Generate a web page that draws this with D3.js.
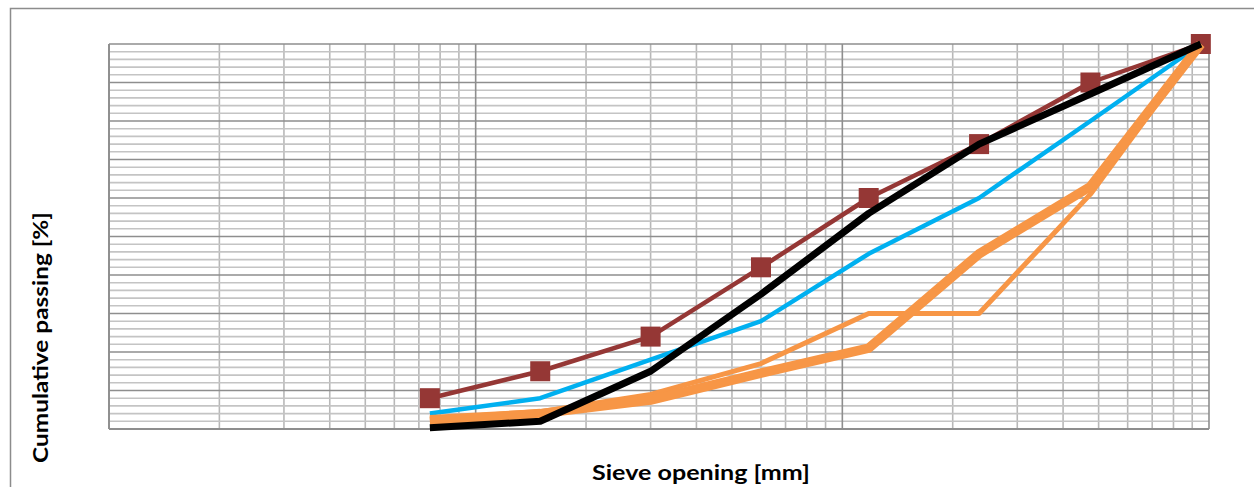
<!DOCTYPE html>
<html>
<head>
<meta charset="utf-8">
<script src="https://cdn.jsdelivr.net/npm/d3@7"></script>
<style>
  html, body { margin: 0; padding: 0; background: #fff; }
  svg { display: block; }
</style>
</head>
<body>
<svg id="chart" width="1254" height="487"></svg>
<script>
// ---- data ----
const sieveSizes = [0.075, 0.15, 0.3, 0.6, 1.18, 2.36, 4.75, 9.5];   // mm
const seriesBrown       = [8, 15, 24, 42, 60, 74, 90, 100];
const seriesBlue        = [4, 8, 18, 28, 45.5, 60, 80, 100];
const seriesOrangeThin  = [3, 4.5, 9, 17, 30, 30, 61, 100];
const seriesOrangeThick = [2, 4, 7.5, 14.5, 21, 45.5, 63, 100];
const seriesBlack       = [0.3, 2, 15, 35, 56, 74, 87, 100];
const xDomain = [0.01, 10];
const yDomain = [0, 100];
const xTitle = "Sieve opening [mm]";
const yTitle = "Cumulative passing [%]";

(function () {
// ---- layout ----
const svg = d3.select("#chart");
const pL = 109, pR = 1209, pT = 44, pB = 429;

const x = d3.scaleLog().domain(xDomain).range([pL, pR]);
const y = d3.scaleLinear().domain(yDomain).range([pB, pT]);

// outer chart frame (extends beyond the visible area, as in the reference)
svg.append("rect")
  .attr("x", 10.5).attr("y", 8.5)
  .attr("width", 1300).attr("height", 600)
  .attr("fill", "none").attr("stroke", "#8c8c8c").attr("stroke-width", 1.5);

const grid = svg.append("g");

// vertical log gridlines
const xTicks = x.ticks();
const isMajorX = v => Math.abs(Math.log10(v) - Math.round(Math.log10(v))) < 1e-9;
grid.selectAll("line.vx").data(xTicks.filter(v => !isMajorX(v))).join("line")
  .attr("x1", d => x(d)).attr("x2", d => x(d))
  .attr("y1", pT).attr("y2", pB)
  .attr("stroke", "#b8b8b8").attr("stroke-width", 1.6);

// horizontal gridlines every 2 %
const yMinor = d3.range(0, 101, 2).filter(v => v % 10 !== 0);
const yMajor = d3.range(0, 101, 10);
grid.selectAll("line.hy").data(yMinor).join("line")
  .attr("x1", pL).attr("x2", pR)
  .attr("y1", d => y(d)).attr("y2", d => y(d))
  .attr("stroke", "#c4c4c4").attr("stroke-width", 1.6);

grid.selectAll("line.hY").data(yMajor).join("line")
  .attr("x1", pL).attr("x2", pR)
  .attr("y1", d => y(d)).attr("y2", d => y(d))
  .attr("stroke", "#8e8e8e").attr("stroke-width", 1.6);

grid.selectAll("line.vX").data(xTicks.filter(isMajorX)).join("line")
  .attr("x1", d => x(d)).attr("x2", d => x(d))
  .attr("y1", pT).attr("y2", pB)
  .attr("stroke", "#8e8e8e").attr("stroke-width", 1.6);

// plot border (left and bottom axis lines)
svg.append("line").attr("x1", pL).attr("x2", pL).attr("y1", pT).attr("y2", pB)
  .attr("stroke", "#8e8e8e").attr("stroke-width", 1.8);
svg.append("line").attr("x1", pL).attr("x2", pR).attr("y1", pB).attr("y2", pB)
  .attr("stroke", "#8e8e8e").attr("stroke-width", 1.8);

// ---- series ----
const line = d3.line().x(d => x(d[0])).y(d => y(d[1]));
const zip = vals => sieveSizes.map((s, i) => [s, vals[i]]);

function drawLine(vals, color, width) {
  svg.append("path")
    .attr("d", line(zip(vals)))
    .attr("fill", "none")
    .attr("stroke", color)
    .attr("stroke-width", width)
    .attr("stroke-linejoin", "round");
}

drawLine(seriesBrown, "#953735", 4.5);
const sq = 20;
svg.selectAll("rect.mk").data(zip(seriesBrown)).join("rect")
  .attr("x", d => x(d[0]) - sq / 2).attr("y", d => y(d[1]) - sq / 2)
  .attr("width", sq).attr("height", sq)
  .attr("fill", "#953735");

drawLine(seriesBlue, "#00b0f0", 4.5);
drawLine(seriesOrangeThin, "#f79646", 5);
drawLine(seriesOrangeThick, "#f79646", 9.5);
drawLine(seriesBlack, "#000000", 7);

// ---- titles ----
const fontFamily = "Lato, 'Open Sans', sans-serif";
const fontSize = 21;
function addTitle(text, cx, cy, rot, targetWidth) {
  const g = svg.append("g").attr("transform", `translate(${cx},${cy}) rotate(${rot})`);
  const t = g.append("text")
    .attr("text-anchor", "middle")
    .attr("font-family", fontFamily).attr("font-weight", 700)
    .attr("font-size", fontSize).attr("fill", "#000")
    .text(text);
  const w = t.node().getComputedTextLength();
  t.attr("transform", `scale(${(targetWidth / w).toFixed(4)},1)`);
}
addTitle(xTitle, 701, 479.5, 0, 218);
addTitle(yTitle, 47.5, 337.5, -90, 251);
})();
</script>
</body>
</html>
